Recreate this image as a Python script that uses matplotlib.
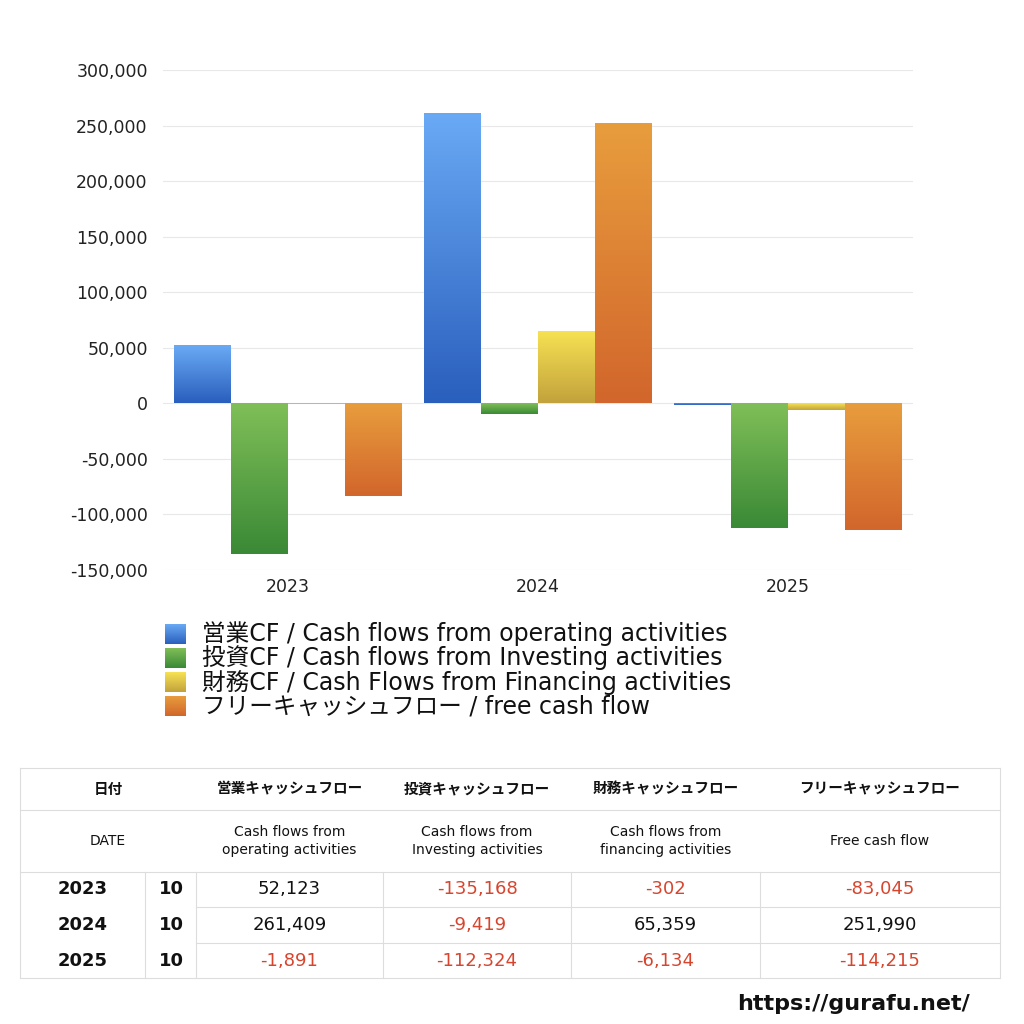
import matplotlib
matplotlib.use("Agg")
import matplotlib.pyplot as plt
import numpy as np
from matplotlib.colors import LinearSegmentedColormap

plt.rcParams['font.family'] = ['DejaVu Sans', 'Noto Sans CJK JP']

years = ["2023", "2024", "2025"]
months = ["10", "10", "10"]
operating = [52123, 261409, -1891]
investing = [-135168, -9419, -112324]
financing = [-302, 65359, -6134]
free_cf = [-83045, 251990, -114215]

series_labels = [
    "営業CF / Cash flows from operating activities",
    "投資CF / Cash flows from Investing activities",
    "財務CF / Cash Flows from Financing activities",
    "フリーキャッシュフロー / free cash flow",
]
header_jp = ["日付", "営業キャッシュフロー", "投資キャッシュフロー", "財務キャッシュフロー", "フリーキャッシュフロー"]
header_en = ["DATE", "Cash flows from\noperating activities", "Cash flows from\nInvesting activities",
             "Cash flows from\nfinancing activities", "Free cash flow"]
yticks = [-150000, -100000, -50000, 0, 50000, 100000, 150000, 200000, 250000, 300000]

grad_colors = [("#6aaaf5", "#2a5fbd"), ("#80bf58", "#3a8936"),
               ("#f7e253", "#c2a23c"), ("#e89d3d", "#d2662c")]

W = H = 1024
fig = plt.figure(figsize=(10.24, 10.24), dpi=100)
ax = fig.add_axes([163 / W, 1 - 570 / H, 750 / W, 500 / H])

data = [operating, investing, financing, free_cf]
x = np.arange(len(years))
bw = 0.228
grad = np.linspace(0, 1, 256).reshape(-1, 1)
for i, (vals, (ctop, cbot)) in enumerate(zip(data, grad_colors)):
    cmap = LinearSegmentedColormap.from_list(f"g{i}", [ctop, cbot])
    bars = ax.bar(x + (i - 1.5) * bw, vals, width=bw, facecolor="none", edgecolor="none", zorder=3)
    for b in bars:
        x0, y0 = b.get_x(), b.get_y()
        w, h = b.get_width(), b.get_height()
        top, bot = max(y0, y0 + h), min(y0, y0 + h)
        im = ax.imshow(grad, cmap=cmap, aspect="auto", extent=[x0, x0 + w, bot, top],
                       origin="upper", zorder=3, interpolation="bilinear")
        im.set_clip_path(b)

ax.set_xlim(-0.5, 2.5)
ax.set_ylim(-150000, 300000)
ax.set_yticks(yticks)
ax.set_yticklabels([f"{v:,}" for v in yticks], fontsize=12.5, color="#222222")
ax.set_xticks(x)
ax.set_xticklabels(years, fontsize=12.5, color="#222222")
ax.tick_params(length=0, pad=11)
ax.tick_params(axis="x", pad=6)
for s in ax.spines.values():
    s.set_visible(False)
ax.grid(axis="y", color="#e8e8e8", linewidth=0.8, zorder=0)
ax.set_axisbelow(True)

# full-figure overlay axes in pixel coords
ov = fig.add_axes([0, 0, 1, 1], zorder=-1)
ov.set_xlim(0, W)
ov.set_ylim(H, 0)
ov.axis("off")

# legend
for i, (lab, (ctop, cbot)) in enumerate(zip(series_labels, grad_colors)):
    yc = 634 + 24 * i
    cmap = LinearSegmentedColormap.from_list(f"l{i}", [ctop, cbot])
    ov.imshow(grad, cmap=cmap, aspect="auto", extent=[165, 186, yc + 10, yc - 10],
              origin="upper", interpolation="bilinear")
    ov.text(202, yc, lab, fontsize=17, va="center", ha="left", color="#111111")

# table
lc = "#dddddd"
lw = 0.8
left, right = 20, 1000
top, h1, h2 = 768, 810, 872
rows_y = [872, 907, 943, 978]
col_x = [20, 145, 196, 383, 571, 760, 1000]
for yy in [top, h1, h2, rows_y[-1]]:
    ov.plot([left, right], [yy, yy], color=lc, lw=lw)
for yy in rows_y[1:-1]:
    ov.plot([196, right], [yy, yy], color=lc, lw=lw)
ov.plot([left, left], [top, rows_y[-1]], color=lc, lw=lw)
ov.plot([right, right], [top, rows_y[-1]], color=lc, lw=lw)
for cx in col_x[1:-1]:
    ov.plot([cx, cx], [h2, rows_y[-1]], color=lc, lw=lw)

hdr_centers = [108] + [(col_x[k] + col_x[k + 1]) / 2 for k in range(2, 6)]
for cxx, jp, en in zip(hdr_centers, header_jp, header_en):
    ov.text(cxx, (top + h1) / 2, jp, fontsize=10.5, fontweight="bold", ha="center", va="center", color="#111111")
    ov.text(cxx, (h1 + h2) / 2, en, fontsize=10, ha="center", va="center",
            color="#111111", linespacing=1.45)

neg_c = "#d8452e"
for r, (yr, mo) in enumerate(zip(years, months)):
    yc = (rows_y[r] + rows_y[r + 1]) / 2
    ov.text(83, yc, yr, fontsize=13, fontweight="bold", ha="center", va="center", color="#111111")
    ov.text(171, yc, mo, fontsize=13, fontweight="bold", ha="center", va="center", color="#111111")
    for k, vals in enumerate(data):
        v = vals[r]
        cxx = (col_x[k + 2] + col_x[k + 3]) / 2
        ov.text(cxx, yc, f"{v:,}", fontsize=13, ha="center", va="center",
                color=neg_c if v < 0 else "#111111")

ov.text(970, 1004, "https://gurafu.net/", fontsize=16, fontweight="bold", ha="right", va="center",
        color="#111111")

fig.savefig("out.png", dpi=100, facecolor="white")
